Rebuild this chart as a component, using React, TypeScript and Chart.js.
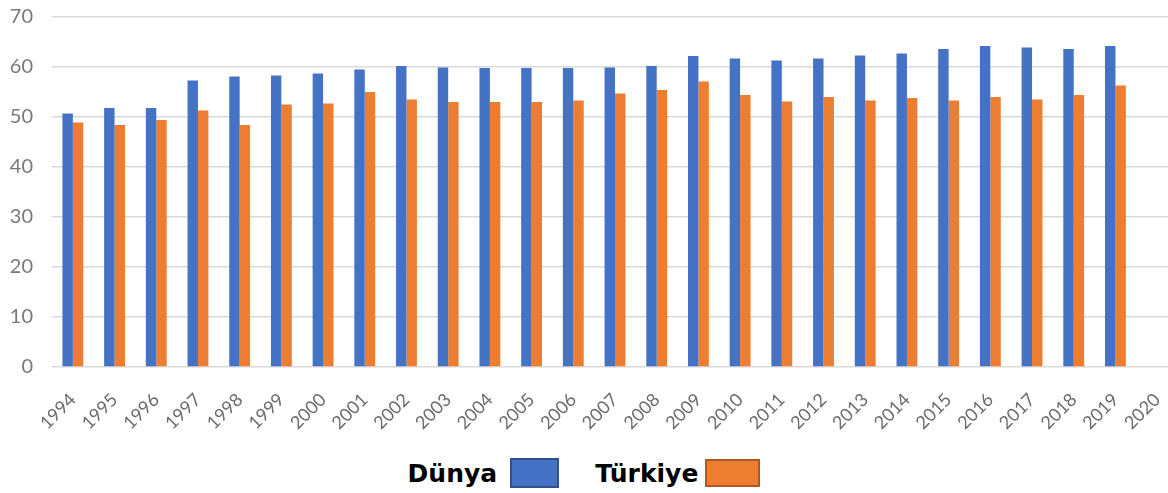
import React, { useEffect, useRef } from "react";
import { Chart, registerables } from "chart.js";

Chart.register(...registerables);

const years: string[] = [
  "1994", "1995", "1996", "1997", "1998", "1999", "2000", "2001", "2002",
  "2003", "2004", "2005", "2006", "2007", "2008", "2009", "2010", "2011",
  "2012", "2013", "2014", "2015", "2016", "2017", "2018", "2019", "2020",
];

const dunya: (number | null)[] = [
  50.7, 51.8, 51.8, 57.3, 58.1, 58.3, 58.7, 59.5, 60.2, 59.9, 59.8, 59.8, 59.8,
  59.9, 60.2, 62.2, 61.7, 61.3, 61.7, 62.3, 62.7, 63.6, 64.2, 63.9, 63.6, 64.2,
  null,
];

const turkiye: (number | null)[] = [
  48.9, 48.4, 49.4, 51.3, 48.4, 52.5, 52.7, 55.0, 53.5, 53.0, 53.0, 53.0, 53.3,
  54.7, 55.4, 57.1, 54.4, 53.1, 54.0, 53.3, 53.8, 53.3, 54.0, 53.5, 54.4, 56.3,
  null,
];

const yTicks: number[] = [0, 10, 20, 30, 40, 50, 60, 70];

const BLUE = "#4472C4";
const ORANGE = "#ED7D31";

export default function App() {
  const canvasRef = useRef<HTMLCanvasElement | null>(null);

  useEffect(() => {
    if (!canvasRef.current) return;
    const chart = new Chart(canvasRef.current, {
      type: "bar",
      data: {
        labels: years,
        datasets: [
          {
            label: "Dünya",
            data: dunya,
            backgroundColor: BLUE,
            borderWidth: 0,
            categoryPercentage: 0.5,
            barPercentage: 1.0,
          },
          {
            label: "Türkiye",
            data: turkiye,
            backgroundColor: ORANGE,
            borderWidth: 0,
            categoryPercentage: 0.5,
            barPercentage: 1.0,
          },
        ],
      },
      options: {
        responsive: false,
        animation: false,
        devicePixelRatio: 1,
        layout: { padding: { top: 17, left: 0, right: 0, bottom: 0 } },
        plugins: {
          legend: { display: false },
          tooltip: { enabled: false },
        },
        scales: {
          x: {
            grid: { display: false, drawTicks: false },
            border: { display: false },
            ticks: {
              autoSkip: false,
              minRotation: 45,
              maxRotation: 45,
              padding: 22,
              color: "#6b6b6b",
              font: { family: "Lato", size: 18 },
            },
            afterFit: (scale: any) => {
              scale.height = 73;
              scale.paddingLeft = 0;
              scale.paddingRight = 0;
            },
          },
          y: {
            min: 0,
            max: 70,
            afterBuildTicks: (scale: any) => {
              scale.ticks = yTicks.map((v) => ({ value: v }));
            },
            grid: { color: "#d9d9d9", lineWidth: 1.5, drawTicks: false },
            border: { display: false },
            ticks: {
              padding: 19,
              color: "#7a7a7a",
              font: { family: "Lato", size: 20 },
            },
            afterFit: (scale: any) => {
              scale.width = 52;
              scale.paddingTop = 0;
              scale.paddingBottom = 0;
            },
          },
        },
      },
    });
    return () => chart.destroy();
  }, []);

  const textStyle: React.CSSProperties = {
    fontFamily: "'DejaVu Sans', sans-serif",
    fontWeight: 700,
    fontSize: 25,
    color: "#000",
  };

  return (
    <div
      style={{
        position: "fixed",
        left: 0,
        top: 0,
        width: 1168,
        height: 493,
        overflow: "hidden",
        background: "#fff",
      }}
    >
      <canvas ref={canvasRef} width={1178} height={440} style={{ display: "block" }} />
      <div
        style={{
          position: "absolute",
          left: 0,
          top: 456,
          width: 1168,
          height: 34,
          display: "flex",
          alignItems: "center",
          justifyContent: "center",
        }}
      >
        <span style={textStyle}>Dünya</span>
        <span
          style={{
            display: "inline-block",
            width: 45,
            height: 26,
            marginLeft: 13,
            background: BLUE,
            border: "2px solid #2F528F",
          }}
        />
        <span style={{ ...textStyle, marginLeft: 36 }}>Türkiye</span>
        <span
          style={{
            display: "inline-block",
            width: 51,
            height: 24,
            marginLeft: 7,
            background: ORANGE,
            border: "2px solid #AE5A21",
          }}
        />
      </div>
    </div>
  );
}
